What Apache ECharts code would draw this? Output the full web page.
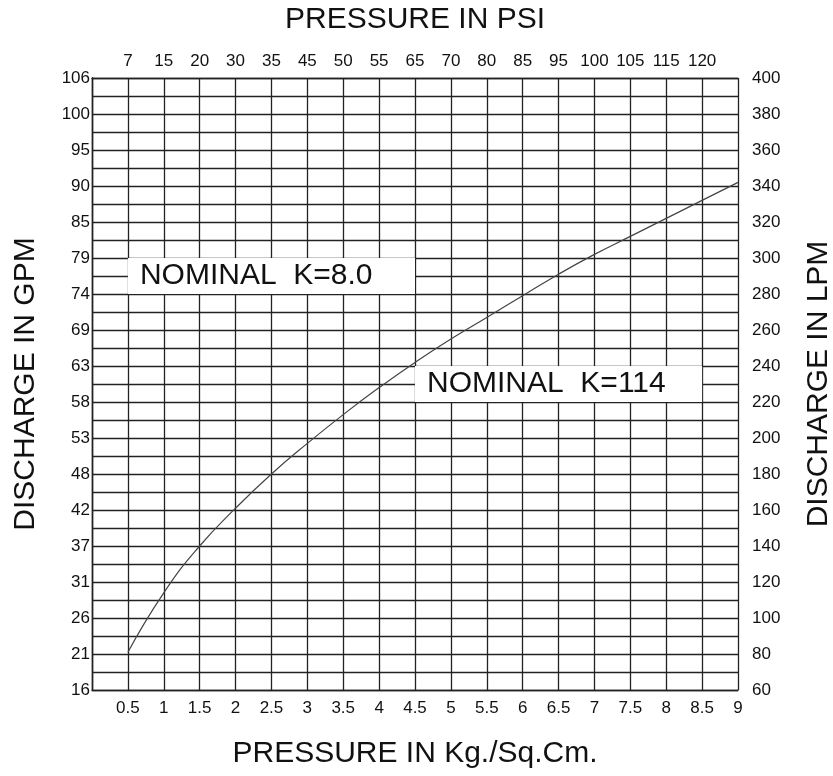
<!DOCTYPE html>
<html lang="en">

<head>
    <meta charset="UTF-8">
    <title>Discharge vs Pressure</title>
    <script src="https://cdn.jsdelivr.net/npm/echarts@6/dist/echarts.min.js"></script>
    <style>
        body,
        html {
            padding: 0;
            margin: 0;
            background: #fff;
        }

        #chart-panel {
            height: 776px;
            width: 833px;
        }
    </style>
</head>

<body>
    <div id="chart-panel"></div>
    <script>
        // pressure (kg/cm2) and discharge (LPM)
        var pressureKg = [0.5, 1, 1.5, 2, 2.5, 3, 3.5, 4, 4.5, 5, 5.5, 6, 6.5, 7, 7.5, 8, 8.5, 9];
        var dischargeLpm = [81, 114, 140, 161, 180, 197, 213, 228, 242, 255, 267, 279, 291, 302, 312, 322, 332, 342];

        // top axis labels (psi) at every 0.5 kg/cm2 from 0.5 to 8.5
        var psiLabels = ['7', '15', '20', '30', '35', '45', '50', '55', '65', '70', '80', '85', '95', '100', '105', '115', '120'];
        // left axis labels (gpm) at every 20 LPM from 60 to 400
        var gpmLabels = ['16', '21', '26', '31', '37', '42', '48', '53', '58', '63', '69', '74', '79', '85', '90', '95', '100', '106'];

        var lineCol = '#222';
        var font = 'Liberation Sans, Arial, sans-serif';
        var titleSize = 30;
        var tickSize = 17;

        var seriesData = pressureKg.map(function (p, i) { return [p, dischargeLpm[i]]; });

        var option = {
            backgroundColor: '#fff',
            textStyle: { fontFamily: font, color: '#111' },
            // keep the plot box fixed, titles sit outside it
            grid: { left: 92, right: 95, top: 78, bottom: 86, outerBoundsMode: 'none', containLabel: false },
            xAxis: [{
                type: 'value',
                min: 0,
                max: 9,
                interval: 0.5,
                position: 'bottom',
                name: 'PRESSURE IN Kg./Sq.Cm.',
                nameLocation: 'middle',
                nameGap: 49,
                nameTextStyle: { fontSize: titleSize, fontFamily: font, color: '#111' },
                axisLine: { lineStyle: { color: lineCol, width: 1.3 } },
                axisTick: { show: false },
                axisLabel: {
                    fontSize: tickSize, color: '#111', margin: 10,
                    formatter: function (v) { return v === 0 ? '' : String(v); }
                },
                splitLine: { show: true, lineStyle: { color: lineCol, width: 1.3 } }
            }, {
                type: 'value',
                min: 0,
                max: 9,
                interval: 0.5,
                position: 'top',
                name: 'PRESSURE IN PSI',
                nameLocation: 'middle',
                nameGap: 43,
                nameTextStyle: { fontSize: titleSize, fontFamily: font, color: '#111' },
                axisLine: { lineStyle: { color: lineCol, width: 1.3 } },
                axisTick: { show: false },
                axisLabel: {
                    fontSize: tickSize, color: '#111', margin: 8,
                    formatter: function (v) {
                        var i = Math.round(v / 0.5) - 1;
                        return psiLabels[i] || '';
                    }
                },
                splitLine: { show: false }
            }],
            yAxis: [{
                type: 'value',
                min: 60,
                max: 400,
                interval: 10,
                position: 'left',
                name: 'DISCHARGE IN GPM',
                nameLocation: 'middle',
                nameGap: 51,
                nameTextStyle: { fontSize: titleSize, fontFamily: font, color: '#111' },
                axisLine: { lineStyle: { color: lineCol, width: 1.3 } },
                axisTick: { show: false },
                axisLabel: {
                    fontSize: tickSize, color: '#111', margin: 2,
                    formatter: function (v) {
                        if ((v - 60) % 20 !== 0) return '';
                        return gpmLabels[(v - 60) / 20];
                    }
                },
                splitLine: { show: true, lineStyle: { color: lineCol, width: 1.3 } }
            }, {
                type: 'value',
                min: 60,
                max: 400,
                interval: 10,
                position: 'right',
                name: 'DISCHARGE IN LPM',
                nameLocation: 'middle',
                nameGap: 66,
                nameTextStyle: { fontSize: titleSize, fontFamily: font, color: '#111' },
                axisLine: { show: true, lineStyle: { color: lineCol, width: 1.3 } },
                axisTick: { show: false },
                axisLabel: {
                    fontSize: tickSize, color: '#111', margin: 14,
                    formatter: function (v) { return (v - 60) % 20 === 0 ? String(v) : ''; }
                },
                splitLine: { show: false }
            }],
            series: [{
                type: 'line',
                xAxisIndex: 0,
                yAxisIndex: 1,
                data: seriesData,
                smooth: true,
                symbol: 'none',
                z: 5,
                lineStyle: { color: '#444', width: 1.2 },
                markArea: {
                    silent: true,
                    itemStyle: { color: '#fff', opacity: 1 },
                    label: {
                        show: true,
                        position: 'insideLeft',
                        distance: 12,
                        fontSize: titleSize,
                        fontFamily: font,
                        color: '#111'
                    },
                    data: [
                        [{ name: 'NOMINAL  K=8.0', xAxis: 0.5, yAxis: 280 }, { xAxis: 4.5, yAxis: 300 }],
                        [{ name: 'NOMINAL  K=114', xAxis: 4.5, yAxis: 220 }, { xAxis: 8.5, yAxis: 240 }]
                    ]
                }
            }]
        };

        var chartVM = echarts.init(document.getElementById('chart-panel'));
        chartVM.setOption(option);
    </script>
</body>

</html>
